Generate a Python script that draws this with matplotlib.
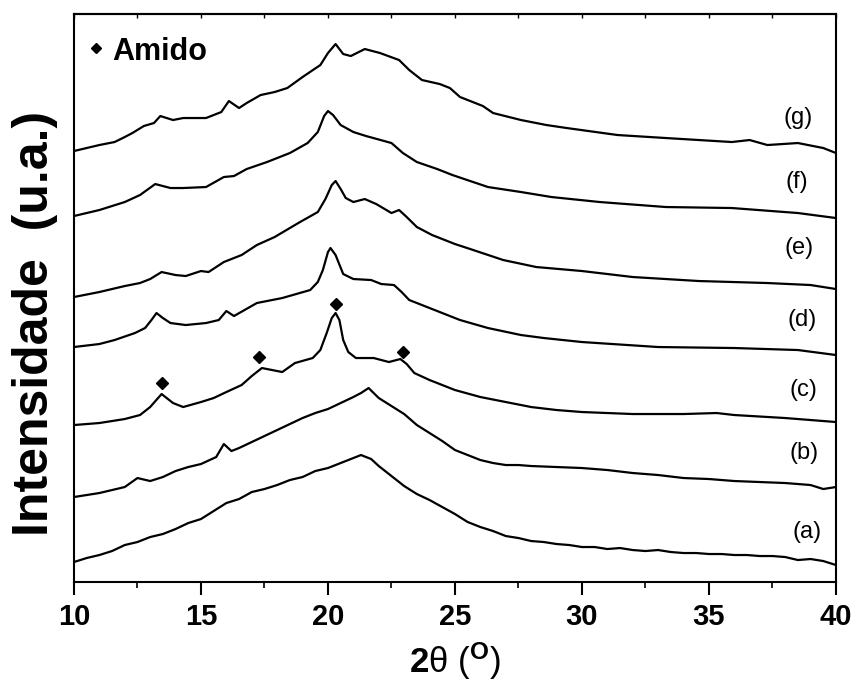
import matplotlib
matplotlib.use('Agg')
import matplotlib.pyplot as plt
from matplotlib.ticker import MultipleLocator, NullFormatter

plt.rcParams['font.family'] = ['Liberation Sans', 'DejaVu Sans']
plt.rcParams['mathtext.fontset'] = 'custom'
plt.rcParams['mathtext.rm'] = 'Liberation Sans'
plt.rcParams['mathtext.bf'] = 'Liberation Sans:bold'
plt.rcParams['mathtext.it'] = 'Liberation Sans:italic'

# XRD patterns (intensity, offset stacked, a.u.)
x_a = [10, 10.5, 11, 11.5, 12, 12.5, 13, 13.5, 14, 14.5, 15, 15.5, 16, 16.5, 17, 17.5, 18, 18.5,
       19, 19.5, 20, 20.5, 21, 21.3, 21.5, 21.7, 22, 22.5, 23, 23.5, 24, 24.5, 25, 25.5, 26, 26.5,
       27, 27.5, 28, 28.5, 29, 29.5, 30, 30.5, 31, 31.5, 32, 32.5, 33, 33.5, 34, 34.5, 35, 35.5,
       36, 36.5, 37, 37.5, 38, 38.5, 39, 39.5, 40]
y_a = [38, 42, 45, 49, 55, 58, 63, 66, 71, 77, 81, 89, 97, 101, 108, 111, 115, 120,
       123, 129, 132, 137, 142, 145, 143, 141, 134, 124, 114, 106, 100, 93, 86, 78, 73, 69,
       64, 62, 59, 58, 56, 55, 53, 53, 51, 52, 50, 49, 50, 48, 47, 47, 46, 46,
       45, 45, 44, 44, 43, 40, 41, 39, 35]

x_b = [10, 10.5, 11, 11.5, 12, 12.5, 13, 13.5, 14, 14.5, 15, 15.6, 15.9, 16.2, 16.5, 17, 17.5, 18,
       18.5, 19, 19.5, 20, 20.5, 21, 21.3, 21.6, 22, 22.5, 23, 23.5, 24, 24.5, 25, 25.5, 26, 26.5,
       27, 27.5, 28, 29, 30, 31, 32, 33, 34, 35, 36, 37, 38, 39, 39.5, 40]
y_b = [103, 105, 107, 110, 113, 122, 119, 123, 129, 133, 136, 143, 156, 149, 152, 158, 164, 170,
       176, 182, 187, 191, 197, 203, 207, 212, 202, 194, 186, 175, 167, 159, 150, 145, 140, 137,
       135, 135, 134, 133, 132, 130, 127, 125, 122, 121, 119, 118, 117, 115, 111, 113]

x_c = [10, 11, 12, 12.6, 13, 13.45, 13.9, 14.3, 15, 15.5, 16, 16.6, 17, 17.4, 17.8, 18.2, 18.7,
       19.4, 19.7, 19.95, 20.15, 20.3, 20.45, 20.6, 20.8, 21.1, 21.8, 22.4, 22.85, 23.1, 23.4, 24,
       25, 26, 27, 28, 29, 30, 32, 34, 35.3, 36, 38, 40]
y_c = [175, 177, 181, 185, 193, 206, 197, 193, 198, 202, 208, 215, 224, 232, 230, 228, 237,
       242, 250, 267, 282, 287, 280, 260, 248, 242, 242, 238, 241, 236, 227, 220,
       210, 203, 198, 193, 190, 188, 186, 186, 187, 185, 182, 178]

x_d = [10, 11, 11.6, 12.4, 12.8, 13.05, 13.25, 13.5, 13.8, 14.4, 15.2, 15.7, 16.0, 16.3, 17.2,
       18.2, 19.3, 19.6, 19.8, 20.0, 20.1, 20.3, 20.6, 21, 21.7, 22.1, 22.6, 22.9, 23.2, 24.3,
       25.2, 26.3, 27.6, 28.5, 30, 33, 36, 38.5, 40]
y_d = [253, 256, 260, 267, 272, 280, 287, 282, 277, 275, 277, 280, 289, 284, 297,
       302, 310, 318, 330, 348, 352, 345, 326, 321, 320, 316, 315, 308, 300, 289,
       280, 272, 265, 262, 258, 253, 252, 250, 245]

x_e = [10, 11, 12, 12.6, 13, 13.45, 14, 14.4, 15, 15.3, 15.9, 16.6, 17.2, 17.9, 18.9, 19.6,
       19.9, 20.15, 20.3, 20.5, 20.7, 21, 21.45, 21.9, 22.5, 22.8, 23.1, 23.5, 24.1, 25, 25.6,
       26.9, 28.2, 30, 32, 34.6, 37.3, 39, 40]
y_e = [303, 308, 314, 317, 321, 328, 325, 324, 329, 328, 338, 345, 355, 363, 378, 388,
       401, 415, 419, 411, 402, 398, 401, 396, 387, 390, 383, 373, 365, 356, 351,
       340, 333, 329, 323, 319, 317, 315, 311]

x_f = [10, 11, 12, 12.6, 13.2, 13.8, 14.3, 15.2, 15.9, 16.3, 16.8, 17.6, 18.5, 19.2, 19.6,
       19.85, 20.0, 20.2, 20.5, 21, 21.5, 22.5, 22.95, 23.5, 24.3, 24.9, 26.3, 27.6, 28.8,
       30.7, 33.3, 35.9, 38.5, 40]
y_f = [384, 390, 398, 405, 416, 412, 412, 413, 423, 424, 431, 438, 447, 457, 468,
       484, 489, 485, 475, 468, 464, 457, 447, 438, 431, 425, 413, 408, 403,
       398, 393, 392, 387, 382]

x_g = [10, 11, 11.6, 12, 12.3, 12.75, 13.15, 13.4, 13.9, 14.3, 15.2, 15.8, 16.1, 16.5, 16.8,
       17.35, 17.9, 18.4, 19.0, 19.7, 20.0, 20.3, 20.6, 20.9, 21.45, 22.05, 22.8, 23.2, 23.7,
       24.4, 24.8, 25.2, 26.1, 26.5, 27.6, 28.6, 29.4, 31.4, 33.3, 35.9, 36.6, 37.3, 38.5,
       39.5, 40]
y_g = [449, 455, 458, 463, 467, 474, 477, 484, 480, 482, 482, 488, 499, 492, 497,
       505, 508, 512, 523, 535, 547, 556, 546, 544, 551, 547, 540, 530, 520,
       516, 512, 503, 494, 487, 480, 475, 472, 465, 462, 458, 460, 455, 457,
       452, 447]

# starch (amido) peak markers on curve (c)
amido_x = [13.45, 17.3, 20.3, 22.95]
amido_y = [217, 243, 296, 248]

labels = ['(a)', '(b)', '(c)', '(d)', '(e)', '(f)', '(g)']
label_x = [38.86, 38.74, 38.7, 38.66, 38.55, 38.46, 38.5]
label_y = [68, 147, 210, 280, 352, 418, 482]

fig = plt.figure(figsize=(8.56, 6.91), dpi=100)
ax = fig.add_axes([0.0864, 0.1577, 0.8902, 0.822])

for xs, ys in [(x_a, y_a), (x_b, y_b), (x_c, y_c), (x_d, y_d),
               (x_e, y_e), (x_f, y_f), (x_g, y_g)]:
    ax.plot(xs, ys, color='black', lw=1.6, solid_joinstyle='round')

ax.plot(amido_x, amido_y, 'D', color='black', ms=6.5, ls='none')

for lab, lx, ly in zip(labels, label_x, label_y):
    ax.text(lx, ly, lab, fontsize=17, ha='center', va='center')

# legend
ax.plot([0.029], [0.940], 'D', color='black', ms=5, transform=ax.transAxes)
ax.text(0.050, 0.933, 'Amido', transform=ax.transAxes, fontsize=22,
        fontweight='bold', va='center', ha='left')

ax.set_xlim(10, 40)
ax.set_ylim(18, 586)
ax.set_yticks([])
ax.xaxis.set_major_locator(MultipleLocator(5))
ax.xaxis.set_minor_locator(MultipleLocator(2.5))
ax.tick_params(axis='x', which='major', direction='out', length=9, width=1.5, pad=6)
ax.tick_params(axis='x', which='minor', direction='out', length=4.5, width=1.2)
for t in ax.get_xticklabels():
    t.set_family(['Liberation Sans Narrow', 'Liberation Sans'])
    t.set_fontweight('bold')
    t.set_fontsize(21)

# small inward ticks on the top edge
top = ax.secondary_xaxis('top')
top.xaxis.set_major_locator(MultipleLocator(2.5))
top.xaxis.set_major_formatter(NullFormatter())
top.tick_params(direction='in', length=3, width=1)
top.spines['top'].set_linewidth(1.5)

for sp in ax.spines.values():
    sp.set_linewidth(1.5)

ax.set_xlabel(r'$\mathbf{2}\mathrm{\theta}$ ($^{\mathbf{O}}$)', fontsize=25, labelpad=7)
ax.set_ylabel('Intensidade  (u.a.)', fontsize=36, fontweight='bold')
ax.yaxis.set_label_coords(-0.021, 0.455)

fig.savefig('out.png', dpi=100)
